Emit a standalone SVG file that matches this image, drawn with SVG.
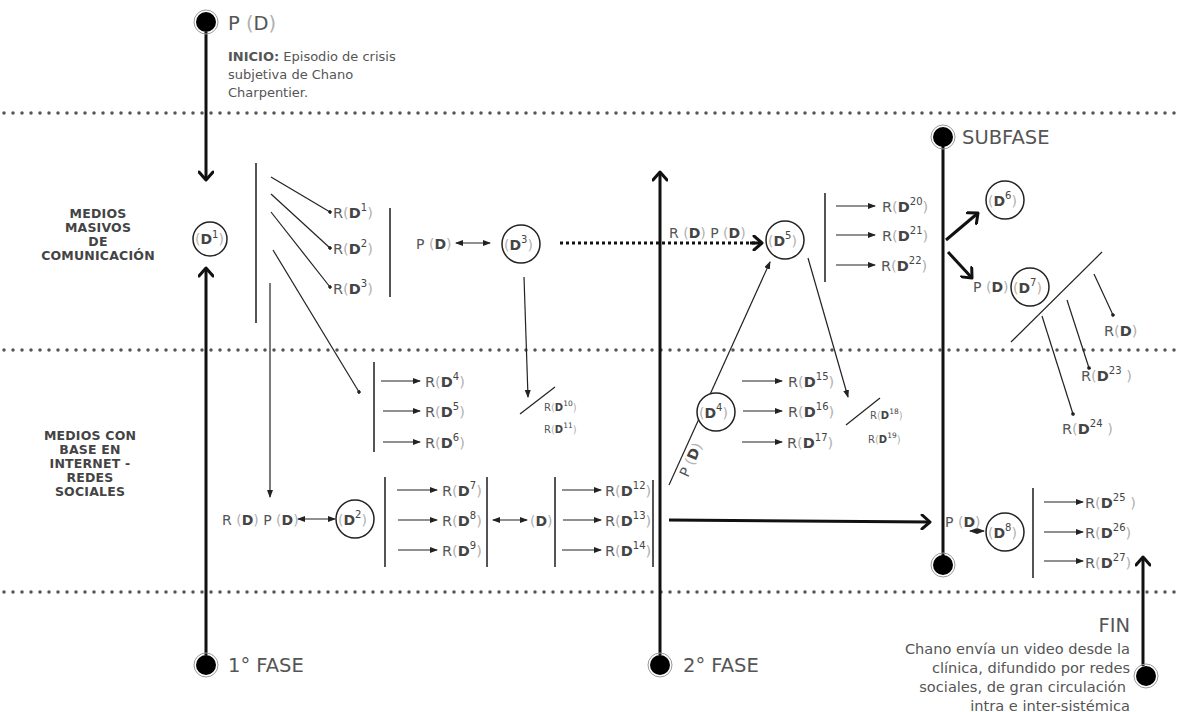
<svg xmlns="http://www.w3.org/2000/svg" width="1178" height="712" viewBox="0 0 1178 712">
<style>
text{font-family:"DejaVu Sans","Liberation Sans",sans-serif;fill:#555}
.big{font-size:19.5px}
.lbl{font-size:14.5px}
.pd{font-size:14px}
.sm{font-size:10px}
.cap{font-size:12.5px;font-weight:bold;fill:#444;text-anchor:middle;letter-spacing:0.2px}
.desc{font-size:13px}
.fin{font-size:14.6px;text-anchor:end}
.p{fill:#b0b0b0;font-weight:normal}
.d{font-weight:bold;fill:#444}
.sup{font-size:10px;fill:#444}
.sm .sup{font-size:7.5px}
.dots{stroke:#555;stroke-width:3.5;stroke-linecap:round;stroke-dasharray:0 9;fill:none}
.thin{stroke:#222;stroke-width:1.2;fill:none}
.bar{stroke:#555;stroke-width:2;fill:none}
.thick{stroke:#111;stroke-width:3;fill:none}
.node{fill:#fff;stroke:#222;stroke-width:1.5}
.dot{fill:#000}
.ring{fill:none;stroke:#999;stroke-width:1}
</style>
<defs>
<marker id="ah" markerUnits="userSpaceOnUse" markerWidth="8" markerHeight="6" refX="7" refY="3" orient="auto"><path d="M0,0 L8,3 L0,6 z" fill="#222"/></marker>
<marker id="ahs" markerUnits="userSpaceOnUse" markerWidth="8" markerHeight="6" refX="1" refY="3" orient="auto"><path d="M8,0 L0,3 L8,6 z" fill="#222"/></marker>
<marker id="dt" markerUnits="userSpaceOnUse" markerWidth="4" markerHeight="4" refX="2" refY="2" orient="auto"><circle cx="2" cy="2" r="1.8" fill="#222"/></marker>
<marker id="chev" markerUnits="userSpaceOnUse" markerWidth="16" markerHeight="16" refX="11" refY="8" orient="auto"><path d="M3,1 L11,8 L3,15" fill="none" stroke="#111" stroke-width="3" stroke-linecap="round" stroke-linejoin="round"/></marker>
</defs>

<g id="dividers">
<line class="dots" x1="4" y1="113" x2="1178" y2="113"/>
<line class="dots" x1="4" y1="350" x2="1178" y2="350"/>
<line class="dots" x1="4" y1="592" x2="1178" y2="592"/>
</g>

<g id="labels">
<text class="cap"><tspan x="98" y="218">MEDIOS</tspan><tspan x="98" y="232">MASIVOS</tspan><tspan x="98" y="246">DE</tspan><tspan x="98" y="260">COMUNICACIÓN</tspan></text>
<text class="cap"><tspan x="90" y="440">MEDIOS CON</tspan><tspan x="90" y="454">BASE EN</tspan><tspan x="90" y="468">INTERNET -</tspan><tspan x="90" y="482">REDES</tspan><tspan x="90" y="496">SOCIALES</tspan></text>
</g>

<g id="connectors">
<line class="thick" x1="206" y1="32" x2="206" y2="180" marker-end="url(#chev)"/>
<line class="thick" x1="206" y1="655" x2="206" y2="268" marker-end="url(#chev)"/>
<line class="thick" x1="660" y1="655" x2="660" y2="172" marker-end="url(#chev)"/>
<line class="thick" x1="943" y1="137" x2="943" y2="565"/>
<line class="thick" x1="1143" y1="666" x2="1143" y2="557" marker-end="url(#chev)"/>
<line class="bar" x1="256" y1="163" x2="256" y2="323"/>
<line class="thin" x1="270" y1="283" x2="270" y2="497" marker-end="url(#ah)"/>
<line class="thin" x1="271" y1="177" x2="330" y2="212" marker-end="url(#dt)"/>
<line class="thin" x1="271" y1="194" x2="330" y2="248" marker-end="url(#dt)"/>
<line class="thin" x1="271" y1="212" x2="330" y2="287" marker-end="url(#dt)"/>
<line class="thin" x1="273" y1="250" x2="359" y2="392" marker-end="url(#dt)"/>
<line class="bar" x1="390" y1="208" x2="390" y2="297"/>
<line class="thin" x1="456" y1="243" x2="490" y2="243" marker-start="url(#ahs)" marker-end="url(#ah)"/>
<line class="thin" x1="524" y1="277" x2="528" y2="397" marker-end="url(#ah)"/>
<line x1="560" y1="243" x2="758" y2="243" stroke="#111" stroke-width="3" stroke-dasharray="3 3"/>
<line class="thick" x1="750" y1="243" x2="762" y2="243" marker-end="url(#chev)"/>
<line class="thin" x1="520" y1="414" x2="555" y2="387"/>
<line class="bar" x1="374" y1="362" x2="374" y2="452"/>
<line class="thin" x1="381" y1="381" x2="420" y2="381" marker-end="url(#ah)"/>
<line class="thin" x1="383" y1="411" x2="420" y2="411" marker-end="url(#ah)"/>
<line class="thin" x1="383" y1="442" x2="420" y2="442" marker-end="url(#ah)"/>
<line class="thin" x1="298" y1="519" x2="335" y2="519" marker-start="url(#ahs)" marker-end="url(#ah)"/>
<line class="bar" x1="385" y1="477" x2="385" y2="567"/>
<line class="thin" x1="397" y1="490" x2="437" y2="490" marker-end="url(#ah)"/>
<line class="thin" x1="398" y1="520" x2="437" y2="520" marker-end="url(#ah)"/>
<line class="thin" x1="398" y1="550" x2="437" y2="550" marker-end="url(#ah)"/>
<line class="bar" x1="487" y1="477" x2="487" y2="567"/>
<line class="thin" x1="493" y1="520" x2="527" y2="520" marker-start="url(#ahs)" marker-end="url(#ah)"/>
<line class="bar" x1="555" y1="477" x2="555" y2="567"/>
<line class="thin" x1="562" y1="490" x2="601" y2="490" marker-end="url(#ah)"/>
<line class="thin" x1="563" y1="520" x2="601" y2="520" marker-end="url(#ah)"/>
<line class="thin" x1="562" y1="550" x2="601" y2="550" marker-end="url(#ah)"/>
<line class="bar" x1="653" y1="480" x2="653" y2="567"/>
<line class="thin" x1="669" y1="485" x2="770" y2="262" marker-end="url(#ah)"/>
<line class="thick" x1="669" y1="520" x2="930" y2="522" marker-end="url(#chev)"/>
<line class="thin" x1="742" y1="381" x2="782" y2="381" marker-end="url(#ah)"/>
<line class="thin" x1="743" y1="411" x2="782" y2="411" marker-end="url(#ah)"/>
<line class="thin" x1="742" y1="442" x2="782" y2="442" marker-end="url(#ah)"/>
<line class="thin" x1="808" y1="258" x2="848" y2="397" marker-end="url(#ah)"/>
<line class="thin" x1="846" y1="425" x2="880" y2="398"/>
<line class="bar" x1="825" y1="193" x2="825" y2="282"/>
<line class="thin" x1="836" y1="206" x2="875" y2="206" marker-end="url(#ah)"/>
<line class="thin" x1="836" y1="235" x2="875" y2="235" marker-end="url(#ah)"/>
<line class="thin" x1="836" y1="265" x2="875" y2="265" marker-end="url(#ah)"/>
<line class="thick" x1="946" y1="240" x2="978" y2="213" marker-end="url(#chev)"/>
<line class="thick" x1="948" y1="252" x2="972" y2="278" marker-end="url(#chev)"/>
<line class="thin" x1="1011" y1="342" x2="1102" y2="252"/>
<line class="thin" x1="1094" y1="274" x2="1113" y2="315" marker-end="url(#dt)"/>
<line class="thin" x1="1067" y1="300" x2="1089" y2="368" marker-end="url(#dt)"/>
<line class="thin" x1="1042" y1="316" x2="1073" y2="414" marker-end="url(#dt)"/>
<line class="thin" x1="970" y1="531" x2="984" y2="531" marker-start="url(#ahs)" marker-end="url(#ah)"/>
<line class="bar" x1="1033" y1="488" x2="1033" y2="578"/>
<line class="thin" x1="1044" y1="502" x2="1083" y2="502" marker-end="url(#ah)"/>
<line class="thin" x1="1044" y1="532" x2="1083" y2="532" marker-end="url(#ah)"/>
<line class="thin" x1="1044" y1="561" x2="1083" y2="561" marker-end="url(#ah)"/>
</g>

<g id="start">
<circle class="ring" cx="206" cy="22" r="12"/><circle class="dot" cx="206" cy="22" r="10"/>
<text class="big" x="228" y="30" font-size="18">P <tspan class="p">(</tspan>D<tspan class="p">)</tspan></text>
<text class="desc"><tspan x="228" y="61"><tspan font-weight="bold">INICIO:</tspan> Episodio de crisis</tspan><tspan x="228" y="79">subjetiva de Chano</tspan><tspan x="228" y="97">Charpentier.</tspan></text>
</g>

<g id="fase1">
<circle class="ring" cx="206" cy="665" r="12"/><circle class="dot" cx="206" cy="665" r="10"/>
<text class="big" x="228" y="672">1° FASE</text>
</g>

<g id="fase2">
<circle class="ring" cx="660" cy="665" r="12"/><circle class="dot" cx="660" cy="665" r="10"/>
<text class="big" x="683" y="672">2° FASE</text>
</g>

<g id="subfase">
<circle class="ring" cx="943" cy="137" r="12"/><circle class="dot" cx="943" cy="137" r="10"/>
<circle class="ring" cx="943" cy="565" r="12"/><circle class="dot" cx="943" cy="565" r="10"/>
<text class="big" x="962" y="144">SUBFASE</text>
</g>

<g id="fin">
<circle class="ring" cx="1146" cy="676" r="12"/><circle class="dot" cx="1146" cy="676" r="10"/>
<text class="big" x="1130" y="632" text-anchor="end">FIN</text>
<text class="fin"><tspan x="1130" y="654">Chano envía un video desde la</tspan><tspan x="1130" y="673">clínica, difundido por redes</tspan><tspan x="1126" y="692">sociales, de gran circulación</tspan><tspan x="1130" y="711">intra e inter-sistémica</tspan></text>
</g>

<g id="D1">
<circle class="node" cx="210" cy="239" r="17"/>
<text class="pd" x="195" y="244" font-size="12"><tspan class="p">(</tspan><tspan class="d">D</tspan><tspan class="sup" dy="-6">1</tspan><tspan class="p" dy="6">)</tspan></text>
</g>
<g id="R1-3">
<text class="lbl" x="333" y="218">R<tspan class="p">(</tspan><tspan class="d">D</tspan><tspan class="sup" dy="-7">1</tspan><tspan class="p" dy="7">)</tspan></text>
<text class="lbl" x="333" y="254">R<tspan class="p">(</tspan><tspan class="d">D</tspan><tspan class="sup" dy="-7">2</tspan><tspan class="p" dy="7">)</tspan></text>
<text class="lbl" x="333" y="294">R<tspan class="p">(</tspan><tspan class="d">D</tspan><tspan class="sup" dy="-7">3</tspan><tspan class="p" dy="7">)</tspan></text>
</g>
<g id="D3">
<text class="pd" x="416" y="249">P <tspan class="p">(</tspan><tspan class="d">D</tspan><tspan class="p">)</tspan></text>
<circle class="node" cx="521" cy="244" r="19"/>
<text class="pd" x="504" y="250"><tspan class="p">(</tspan><tspan class="d">D</tspan><tspan class="sup" dy="-7">3</tspan><tspan class="p" dy="7">)</tspan></text>
<text class="pd" x="669" y="238">R <tspan class="p">(</tspan><tspan class="d">D</tspan><tspan class="p">)</tspan> P <tspan class="p">(</tspan><tspan class="d">D</tspan><tspan class="p">)</tspan></text>
</g>
<g id="R10-11">
<text class="sm" x="544" y="411">R<tspan class="p">(</tspan><tspan class="d">D</tspan><tspan class="sup" dy="-5">10</tspan><tspan class="p" dy="5">)</tspan></text>
<text class="sm" x="544" y="433">R<tspan class="p">(</tspan><tspan class="d">D</tspan><tspan class="sup" dy="-5">11</tspan><tspan class="p" dy="5">)</tspan></text>
</g>
<g id="R4-6">
<text class="lbl" x="425" y="387">R<tspan class="p">(</tspan><tspan class="d">D</tspan><tspan class="sup" dy="-7">4</tspan><tspan class="p" dy="7">)</tspan></text>
<text class="lbl" x="425" y="417">R<tspan class="p">(</tspan><tspan class="d">D</tspan><tspan class="sup" dy="-7">5</tspan><tspan class="p" dy="7">)</tspan></text>
<text class="lbl" x="425" y="448">R<tspan class="p">(</tspan><tspan class="d">D</tspan><tspan class="sup" dy="-7">6</tspan><tspan class="p" dy="7">)</tspan></text>
</g>
<g id="D2">
<text class="pd" x="222" y="525">R <tspan class="p">(</tspan><tspan class="d">D</tspan><tspan class="p">)</tspan> P <tspan class="p">(</tspan><tspan class="d">D</tspan><tspan class="p">)</tspan></text>
<circle class="node" cx="355" cy="519" r="19"/>
<text class="pd" x="338" y="525"><tspan class="p">(</tspan><tspan class="d">D</tspan><tspan class="sup" dy="-7">2</tspan><tspan class="p" dy="7">)</tspan></text>
</g>
<g id="R7-9">
<text class="lbl" x="442" y="496">R<tspan class="p">(</tspan><tspan class="d">D</tspan><tspan class="sup" dy="-7">7</tspan><tspan class="p" dy="7">)</tspan></text>
<text class="lbl" x="442" y="526">R<tspan class="p">(</tspan><tspan class="d">D</tspan><tspan class="sup" dy="-7">8</tspan><tspan class="p" dy="7">)</tspan></text>
<text class="lbl" x="442" y="556">R<tspan class="p">(</tspan><tspan class="d">D</tspan><tspan class="sup" dy="-7">9</tspan><tspan class="p" dy="7">)</tspan></text>
</g>
<g id="Dmid">
<text class="pd" x="530" y="526"><tspan class="p">(</tspan><tspan class="d">D</tspan><tspan class="p">)</tspan></text>
</g>
<g id="R12-14">
<text class="lbl" x="605" y="496">R<tspan class="p">(</tspan><tspan class="d">D</tspan><tspan class="sup" dy="-7">12</tspan><tspan class="p" dy="7">)</tspan></text>
<text class="lbl" x="605" y="526">R<tspan class="p">(</tspan><tspan class="d">D</tspan><tspan class="sup" dy="-7">13</tspan><tspan class="p" dy="7">)</tspan></text>
<text class="lbl" x="605" y="556">R<tspan class="p">(</tspan><tspan class="d">D</tspan><tspan class="sup" dy="-7">14</tspan><tspan class="p" dy="7">)</tspan></text>
</g>
<g id="diagPD">
<text class="pd" transform="translate(688,478) rotate(-66)">P <tspan class="p">(</tspan><tspan class="d">D</tspan><tspan class="p">)</tspan></text>
</g>
<g id="D4">
<circle class="node" cx="716" cy="412" r="19"/>
<text class="pd" x="699" y="418"><tspan class="p">(</tspan><tspan class="d">D</tspan><tspan class="sup" dy="-7">4</tspan><tspan class="p" dy="7">)</tspan></text>
</g>
<g id="R15-17">
<text class="lbl" x="788" y="387">R<tspan class="p">(</tspan><tspan class="d">D</tspan><tspan class="sup" dy="-7">15</tspan><tspan class="p" dy="7">)</tspan></text>
<text class="lbl" x="788" y="417">R<tspan class="p">(</tspan><tspan class="d">D</tspan><tspan class="sup" dy="-7">16</tspan><tspan class="p" dy="7">)</tspan></text>
<text class="lbl" x="787" y="448">R<tspan class="p">(</tspan><tspan class="d">D</tspan><tspan class="sup" dy="-7">17</tspan><tspan class="p" dy="7">)</tspan></text>
</g>
<g id="D5">
<circle class="node" cx="785" cy="240" r="19"/>
<text class="pd" x="768" y="246"><tspan class="p">(</tspan><tspan class="d">D</tspan><tspan class="sup" dy="-7">5</tspan><tspan class="p" dy="7">)</tspan></text>
</g>
<g id="R18-19">
<text class="sm" x="870" y="419">R<tspan class="p">(</tspan><tspan class="d">D</tspan><tspan class="sup" dy="-5">18</tspan><tspan class="p" dy="5">)</tspan></text>
<text class="sm" x="868" y="443">R<tspan class="p">(</tspan><tspan class="d">D</tspan><tspan class="sup" dy="-5">19</tspan><tspan class="p" dy="5">)</tspan></text>
</g>
<g id="R20-22">
<text class="lbl" x="882" y="212">R<tspan class="p">(</tspan><tspan class="d">D</tspan><tspan class="sup" dy="-7">20</tspan><tspan class="p" dy="7">)</tspan></text>
<text class="lbl" x="882" y="241">R<tspan class="p">(</tspan><tspan class="d">D</tspan><tspan class="sup" dy="-7">21</tspan><tspan class="p" dy="7">)</tspan></text>
<text class="lbl" x="881" y="271">R<tspan class="p">(</tspan><tspan class="d">D</tspan><tspan class="sup" dy="-7">22</tspan><tspan class="p" dy="7">)</tspan></text>
</g>
<g id="D6">
<circle class="node" cx="1005" cy="200" r="19"/>
<text class="pd" x="988" y="206"><tspan class="p">(</tspan><tspan class="d">D</tspan><tspan class="sup" dy="-7">6</tspan><tspan class="p" dy="7">)</tspan></text>
</g>
<g id="D7">
<text class="pd" x="973" y="292">P <tspan class="p">(</tspan><tspan class="d">D</tspan><tspan class="p">)</tspan></text>
<circle class="node" cx="1030" cy="287" r="19"/>
<text class="pd" x="1013" y="293"><tspan class="p">(</tspan><tspan class="d">D</tspan><tspan class="sup" dy="-7">7</tspan><tspan class="p" dy="7">)</tspan></text>
</g>
<g id="R-sub">
<text class="lbl" x="1104" y="336">R<tspan class="p">(</tspan><tspan class="d">D</tspan><tspan class="p">)</tspan></text>
<text class="lbl" x="1081" y="381">R<tspan class="p">(</tspan><tspan class="d">D</tspan><tspan class="sup" dy="-7">23</tspan><tspan class="p" dy="7"> )</tspan></text>
<text class="lbl" x="1062" y="434">R<tspan class="p">(</tspan><tspan class="d">D</tspan><tspan class="sup" dy="-7">24</tspan><tspan class="p" dy="7"> )</tspan></text>
</g>
<g id="D8">
<text class="pd" x="945" y="527">P <tspan class="p">(</tspan><tspan class="d">D</tspan><tspan class="p">)</tspan></text>
<circle class="node" cx="1005" cy="532" r="19"/>
<text class="pd" x="988" y="538"><tspan class="p">(</tspan><tspan class="d">D</tspan><tspan class="sup" dy="-7">8</tspan><tspan class="p" dy="7">)</tspan></text>
</g>
<g id="R25-27">
<text class="lbl" x="1085" y="508">R<tspan class="p">(</tspan><tspan class="d">D</tspan><tspan class="sup" dy="-7">25</tspan><tspan class="p" dy="7"> )</tspan></text>
<text class="lbl" x="1085" y="538">R<tspan class="p">(</tspan><tspan class="d">D</tspan><tspan class="sup" dy="-7">26</tspan><tspan class="p" dy="7">)</tspan></text>
<text class="lbl" x="1085" y="568">R<tspan class="p">(</tspan><tspan class="d">D</tspan><tspan class="sup" dy="-7">27</tspan><tspan class="p" dy="7">)</tspan></text>
</g>
</svg>
